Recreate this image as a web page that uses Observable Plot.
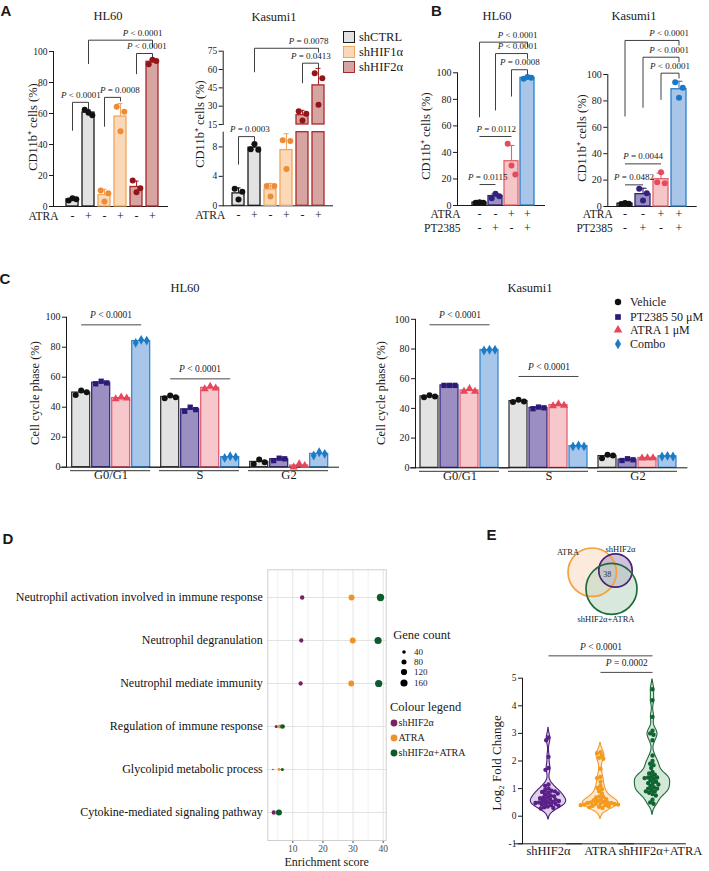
<!DOCTYPE html>
<html><head><meta charset="utf-8">
<script src="https://cdn.jsdelivr.net/npm/d3@7"></script>
<script src="https://cdn.jsdelivr.net/npm/@observablehq/plot@0.6"></script>
<style>
html,body{margin:0;padding:0;background:#fff;}
#fig{position:relative;width:709px;height:871px;overflow:hidden;background:#fff;font-family:"Liberation Serif","Times New Roman",serif;color:#1a1a1a;}
.t{position:absolute;white-space:nowrap;line-height:1;}
.letter{font-family:"Liberation Sans",Arial,sans-serif;font-weight:bold;font-size:15px;}
</style></head><body><div id="fig"></div>
<script>
// ================= DATA =================
// Panel A
const aKeys = ["shCTRL-","shCTRL+","shHIF1α-","shHIF1α+","shHIF2α-","shHIF2α+"];
const aAtraSigns = ["-","+","-","+","-","+"];
const aGroupNames = ["shCTRL","shHIF1α","shHIF2α"];
const hl60APoints = [[3.9,5.4,4.6],[62.5,60.5,58.8],[10.3,3.2,8.6],[64.4,48.5,61.2],[16.7,9.2,11.8],[91.8,94.6,93.8]];
const kasAPoints = [[2.3,0.86,1.9],[7.7,8.4,7.6],[2.7,1.26,2.7],[8.9,5.0,8.8],[25.9,18.3,23.7],[57,31.1,52.9]];
const hl60AYTicks = [0,20,40,60,80,100];
const kasALowerTicks = [0,4,8];
const kasAUpperTicks = [15,30,45,60,75];
const hl60ABrackets = [
  {from:"shCTRL-",to:"shCTRL+",y:67.2,y1:48.9,y2:62.9,label:"P < 0.0001"},
  {from:"shHIF1α-",to:"shHIF1α+",y:70.4,y1:51.5,y2:67.8,label:"P = 0.0008"},
  {from:"shHIF2α-",to:"shHIF2α+",y:98.7,y1:85.4,y2:96.1,label:"P < 0.0001"},
  {from:"shCTRL+",to:"shHIF2α+",y:107.3,y1:91.9,y2:102.6,label:"P < 0.0001"}];
const kasALowerBrackets = [{from:"shCTRL-",to:"shCTRL+",y:9.4,y1:5.6,y2:8.6,label:"P = 0.0003"}];
const kasAUpperBrackets = [
  {from:"shHIF2α-",to:"shHIF2α+",y:65.2,y1:48.8,y2:61.1,label:"P = 0.0413"},
  {from:"shCTRL+",to:"shHIF2α+",y:77.4,y1:57.8,y2:73.9,label:"P = 0.0078"}];

// Panel B
const bKeys = ["Vehicle","PT2385","ATRA","Combo"];
const bAtraSigns = ["-","-","+","+"];
const bPTSigns = ["-","+","-","+"];
const hl60BPoints = [[2.0,2.4,2.1],[5.5,8.8,7.0],[46.5,30.2,23.4],[95.5,96.8,96.2]];
const kasBPoints = [[1.8,2.6,2.0],[13.4,4.5,10.1],[18.4,26,17.7],[94.2,82.3,90]];
const bYTicks = [0,20,40,60,80,100];
const hl60BBrackets = [
  {from:"Vehicle",to:"PT2385",y:15.8,label:"P = 0.0115"},
  {from:"Vehicle",to:"ATRA",y:52,label:"P = 0.0112"},
  {from:"Vehicle",to:"Combo",y:123.1,y1:66.5,y2:119.5,label:"P < 0.0001"},
  {from:"PT2385",to:"Combo",y:114.5,y1:71.6,y2:110.5,label:"P < 0.0001"},
  {from:"ATRA",to:"Combo",y:102.3,y1:82.1,y2:98.8,label:"P = 0.0008"}];
const kasBBrackets = [
  {from:"Vehicle",to:"PT2385",y:16.4,label:"P = 0.0482"},
  {from:"Vehicle",to:"ATRA",y:32.3,label:"P = 0.0044"},
  {from:"Vehicle",to:"Combo",y:125.8,y1:68.2,y2:122,label:"P < 0.0001"},
  {from:"PT2385",to:"Combo",y:113.1,y1:74.8,y2:109.3,label:"P < 0.0001"},
  {from:"ATRA",to:"Combo",y:101,y1:80.8,y2:97,label:"P < 0.0001"}];

// Panel C
const cTreat = ["Vehicle","PT2385 50 μM","ATRA 1 μM","Combo"];
const cPhases = ["G0/G1","S","G2"];
const cYTicks = [0,20,40,60,80,100];
const hl60CVehicle = [[48.2,51.1,50],[46,47.8,46.7],[2.2,5.1,3.3]];
const hl60CPT2385  = [[55.6,57.3,56.2],[37.3,40,38.4],[4.4,6,5.6]];
const hl60CATRA    = [[45.6,46.7,46],[52.2,53.8,52.7],[0,2.2,1.1]];
const hl60CCombo   = [[82.9,84.9,84.4],[6.2,7.3,6.7],[7.8,10,8.9]];
const kasCVehicle  = [[47.5,48.8,48],[44.3,45.8,44.7],[6.5,8.8,8.3]];
const kasCPT2385   = [[55.5,55.5,55.5],[39.8,40.9,40.4],[4.9,6.1,5.4]];
const kasCATRA     = [[51.5,53.3,51.5],[41.6,43.1,42],[6.5,6.7,6.7]];
const kasCCombo    = [[79,79.5,79.5],[14.4,15,14.4],[7.6,8,7.6]];
const hl60CBrackets = [{p:"G0/G1",from:"Vehicle",to:"Combo",y:94.9,label:"P < 0.0001"},{p:"S",from:"Vehicle",to:"Combo",y:58.9,label:"P < 0.0001"}];
const kasCBrackets  = [{p:"G0/G1",from:"Vehicle",to:"Combo",y:96.3,label:"P < 0.0001"},{p:"S",from:"Vehicle",to:"Combo",y:61.5,label:"P < 0.0001"}];

// Panel D
const dTerms = ["Neutrophil activation involved in immune response","Neutrophil degranulation","Neutrophil mediate immunity","Regulation of immune response","Glycolipid metabolic process","Cytokine-mediated signaling pathway"];
const dSets = ["shHIF2α","ATRA","shHIF2α+ATRA"];
const dScoreShHIF2a = [13.1,12.8,12.6,4.5,3.4,3.7];
const dScoreATRA    = [29.5,29.9,29.4,5.7,5.4,4.8];
const dScoreCombo   = [39.1,38.3,38.5,6.6,6.5,5.4];
const dCountShHIF2a = [60,58,58,30,8,60];
const dCountATRA    = [110,110,108,55,25,50];
const dCountCombo   = [165,160,162,70,32,110];
const dSizeLegend = [40,80,120,160];
const dMajorTicks = [10,20,30,40];
const dMinorTicks = [5,15,25,35];

// Panel E
const eGroups = ["shHIF2α","ATRA","shHIF2α+ATRA"];
const eShHIF2a = [2.85,2.75,2.15,1.75,1.68,1.15,1.1,1.0,0.95,0.92,0.9,0.88,0.85,0.82,0.8,0.75,0.72,0.7,0.68,0.65,0.62,0.6,0.58,0.55,0.55,0.52,0.5,0.5,0.48,0.45,0.45,0.42,0.4,0.38,0.35,0.32,0.3,0.28];
const eATRA = [2.32,2.28,2.2,2.12,2.08,1.72,1.42,1.38,1.25,1.1,1.02,0.98,0.9,0.82,0.72,0.7,0.68,0.62,0.6,0.58,0.56,0.52,0.5,0.5,0.48,0.48,0.46,0.45,0.44,0.42,0.42,0.4,0.4,0.38,0.36,0.34,0.32,0.3];
const eCombo = [4.6,4.2,3.6,3.1,3.0,2.95,2.75,2.2,2.0,1.9,1.85,1.75,1.6,1.55,1.5,1.45,1.4,1.4,1.38,1.35,1.3,1.25,1.2,1.2,1.15,1.1,1.05,1.0,1.0,0.95,0.9,0.9,0.85,0.8,0.75,0.6,0.5,0.45];
const eYTicks = [-1,0,1,2,3,4,5];
const eBrackets = [
  {from:"shHIF2α",to:"shHIF2α+ATRA",y:5.81,label:"P < 0.0001"},
  {from:"ATRA",to:"shHIF2α+ATRA",y:5.21,label:"P = 0.0002"}];
const vennSets = ["ATRA","shHIF2α","shHIF2α+ATRA"];
const vennCx = [36.7,60,56];
const vennCy = [43.7,42,60.3];
const vennR  = [24.2,16.7,25.5];
const vennLabelX = [12.5,65,50.5];
const vennLabelY = [23.7,20.3,90.3];
const vennShared = {count: 38, x: 51.7, y: 46.3};

// ================= STYLE =================
const SERIF = "'Liberation Serif','Times New Roman',serif";
const aGroupFill = ["#e2e2e2","#fbd9b8","#d6a5a1"];
const aGroupStroke = ["#1a1a1a","#f0a65e","#a8282d"];
const aGroupDot = ["#111111","#ee8c36","#931519"];
const bFill = ["#e2e2e2","#9d90c3","#f6c5c7","#a9c6e9"];
const bStroke = ["#1a1a1a","#2f2173","#e2636c","#2b7ec7"];
const bDot = ["#111111","#32207b","#e44b5b","#1b78c5"];
const cFill = ["#e2e2e2","#9b8fc2","#f6c8cb","#a8c6ea"];
const cStroke = ["#2a2a2a","#2f1f74","#e3566a","#2d80c9"];
const cDot = ["#111111","#2c1a78","#e8465a","#1b7bc6"];
const cSym = ["circle","square","triangle","diamond"];
const cD3Sym = [d3.symbolCircle,d3.symbolSquare,d3.symbolTriangle,d3.symbolDiamond];
const dColors = ["#7b2065","#f0922b","#0c5b2c"];
const eStroke = ["#4e1c7e","#f29a27","#1b6a3a"];
const eFill = ["#ddd2ea","#fde8cf","#d5e8d8"];
const eDot = ["#5b2088","#f39a1f","#0f6431"];
const vennStroke = ["#f2a23a","#4b2276","#1d6b3a"];
const vennFill = ["#f9d9bf","#a98fc4","#b9d6bf"];

const fig = document.getElementById("fig");
const baseStyle = (fs, color = "#1a1a1a") => ({background: "transparent", overflow: "visible", fontFamily: SERIF, fontSize: fs + "px", color});

function italicP(svg) {
  svg.querySelectorAll("text").forEach(t => {
    const s = t.textContent;
    if (t.childElementCount === 0 && /^P [<=]/.test(s)) {
      t.textContent = "";
      const ts = document.createElementNS("http://www.w3.org/2000/svg", "tspan");
      ts.setAttribute("font-style", "italic");
      ts.textContent = "P";
      t.appendChild(ts);
      t.appendChild(document.createTextNode(s.slice(1)));
    }
  });
}
function place(node, left, top) {
  const d = document.createElement("div");
  d.style.cssText = `position:absolute;left:${left}px;top:${top}px;`;
  d.appendChild(node);
  fig.appendChild(d);
  italicP(node);
  return node;
}
function txt(s, x, y, o = {}) {
  const d = document.createElement("div");
  d.className = "t " + (o.cls || "");
  d.textContent = s;
  d.style.left = x + "px"; d.style.top = y + "px";
  if (o.size) d.style.fontSize = o.size + "px";
  if (o.color) d.style.color = o.color;
  const tx = o.anchor === "start" ? "0%" : o.anchor === "end" ? "-100%" : "-50%";
  d.style.transform = `translate(${tx},-50%)` + (o.rotate ? ` rotate(${o.rotate}deg)` : "");
  fig.appendChild(d);
  return d;
}
function glyph(type, r, fill, x, y) {
  const ns = "http://www.w3.org/2000/svg";
  const s = document.createElementNS(ns, "svg");
  s.setAttribute("width", 16); s.setAttribute("height", 16);
  s.style.cssText = `position:absolute;left:${x - 8}px;top:${y - 8}px;overflow:visible`;
  const p = document.createElementNS(ns, "path");
  p.setAttribute("d", d3.symbol(type, Math.PI * r * r)());
  p.setAttribute("transform", "translate(8,8)");
  p.setAttribute("fill", fill);
  s.appendChild(p);
  fig.appendChild(s);
}

// ================= BAR PANELS (A, B) =================
function barPlot(o) {
  const rows = o.keys.map((k, i) => ({k, i, mean: d3.mean(o.pts[i]), sd: d3.deviation(o.pts[i])}));
  const pts = o.keys.flatMap((k, i) => o.pts[i].map((v, j) => ({k, i, j, v})));
  const [lo, hi] = o.yDomain;
  const inR = v => v >= lo && v <= hi;
  const xb = d3.scaleBand(o.keys, [o.marginLeft + (o.insetLeft || 0), o.width - o.marginRight - (o.insetRight || 0)])
    .paddingInner(o.pI).paddingOuter(o.pO);
  const step = xb.step();
  const idx = k => o.keys.indexOf(k);
  const marks = [];
  if (o.baseline) marks.push(Plot.ruleY([lo], {stroke: "#1a1a1a", strokeWidth: 1}));
  const bars = o.upper ? rows.filter(d => d.mean > lo) : rows;
  marks.push(Plot.barY(bars, {x: "k", y1: () => lo, y2: "mean", fill: d => o.fills[d.i], stroke: d => o.strokes[d.i], strokeWidth: 1.3}));
  const eb = rows.filter(d => inR(d.mean) && inR(d.mean + d.sd));
  marks.push(Plot.ruleX(eb, {x: "k", y1: "mean", y2: d => d.mean + d.sd, stroke: d => o.strokes[d.i], strokeWidth: 1.1}));
  marks.push(Plot.tickY(eb, {x: "k", y: d => d.mean + d.sd, stroke: d => o.strokes[d.i], strokeWidth: 1.1, insetLeft: 3.5, insetRight: 3.5}));
  [0, 1, 2].forEach(j => marks.push(Plot.dot(pts.filter(p => p.j === j && inR(p.v)),
    {x: "k", y: "v", r: 3, fill: d => o.dots[d.i], dx: (j - 1) * 3.8})));
  const br = o.brackets || [];
  const bstroke = {stroke: "#2a2a2a", strokeWidth: 0.9};
  marks.push(Plot.link(br, {x1: "from", x2: "to", y1: "y", y2: "y", ...bstroke}));
  const legged = br.filter(b => b.y1 != null);
  marks.push(Plot.link(legged, {x1: "from", x2: "from", y1: "y", y2: "y1", ...bstroke}));
  marks.push(Plot.link(legged, {x1: "to", x2: "to", y1: "y", y2: "y2", ...bstroke}));
  const nudge = o.labelNudge || [];
  br.forEach((b, bi) => {
    const centered = b.y1 == null || Math.abs(idx(b.to) - idx(b.from)) === 1;
    if (centered) marks.push(Plot.text([b], {x: "from", y: "y", text: "label", dy: -7.5, dx: (idx(b.to) - idx(b.from)) * step / 2 + (nudge[bi] || 0), fontSize: 9}));
    else marks.push(Plot.text([b], {x: "to", y: "y", text: "label", dy: -7.5, dx: 10 + (nudge[bi] || 0), textAnchor: "end", fontSize: 9}));
  });
  (o.rows || []).forEach(row => {
    marks.push(Plot.text(o.keys.map((k, i) => ({k, s: row.signs[i]})), {x: "k", text: "s", frameAnchor: "bottom", dy: row.dy, fontSize: 12}));
    marks.push(Plot.text([row.label], {text: d => d, frameAnchor: "bottom-left", dx: row.dx, dy: row.dy, textAnchor: "end", fontSize: 11.5}));
  });
  return Plot.plot({
    width: o.width, height: o.height,
    marginLeft: o.marginLeft, marginRight: o.marginRight, marginTop: o.marginTop, marginBottom: o.marginBottom,
    style: baseStyle(o.tickFont || 9.5),
    color: {type: "identity"},
    x: {type: "band", domain: o.keys, paddingInner: o.pI, paddingOuter: o.pO, insetLeft: o.insetLeft || 0, insetRight: o.insetRight || 0, axis: null},
    y: {domain: o.yDomain, ticks: o.yTicks, tickSize: 4, tickPadding: 2, line: true, label: null, clamp: !!o.clamp},
    marks
  });
}

const aFills = aKeys.map((k, i) => aGroupFill[Math.floor(i / 2)]);
const aStrokes = aKeys.map((k, i) => aGroupStroke[Math.floor(i / 2)]);
const aDots = aKeys.map((k, i) => aGroupDot[Math.floor(i / 2)]);

// A HL60
place(barPlot({keys: aKeys, pts: hl60APoints, fills: aFills, strokes: aStrokes, dots: aDots,
  width: 180, height: 232, marginLeft: 53, marginRight: 12, marginTop: 51, marginBottom: 26,
  pI: 0.22, pO: 0.45, insetLeft: 3, yDomain: [0, 100], yTicks: hl60AYTicks, baseline: true, labelNudge: [0, 7, 2, 0],
  brackets: hl60ABrackets, rows: [{label: "ATRA", signs: aAtraSigns, dy: 13, dx: 5}]}), 0, 0);
// A Kasumi1 upper
place(barPlot({keys: aKeys, pts: kasAPoints, fills: aFills, strokes: aStrokes, dots: aDots,
  width: 160, height: 232, marginLeft: 42.7, marginRight: 7, marginTop: 50.7, marginBottom: 108,
  pI: 0.25, pO: 0.41, yDomain: [15, 75], yTicks: kasAUpperTicks, upper: true,
  brackets: kasAUpperBrackets}), 180, 0);
// A Kasumi1 lower
place(barPlot({keys: aKeys, pts: kasAPoints, fills: aFills, strokes: aStrokes, dots: aDots,
  width: 160, height: 232, marginLeft: 42.7, marginRight: 7, marginTop: 131.7, marginBottom: 26.7,
  pI: 0.25, pO: 0.41, yDomain: [0, 10], yTicks: kasALowerTicks, clamp: true, baseline: true, labelNudge: [3],
  brackets: kasALowerBrackets, rows: [{label: "ATRA", signs: aAtraSigns, dy: 12.8, dx: 2}]}), 180, 0);

// B HL60
place(barPlot({keys: bKeys, pts: hl60BPoints, fills: bFill, strokes: bStroke, dots: bDot,
  width: 150, height: 240, marginLeft: 57, marginRight: 5, marginTop: 72.3, marginBottom: 35,
  pI: 0.15, pO: 0.6, insetLeft: 4, yDomain: [0, 100], yTicks: bYTicks, baseline: true, tickFont: 10,
  brackets: hl60BBrackets, rows: [{label: "ATRA", signs: bAtraSigns, dy: 12, dx: 3}, {label: "PT2385", signs: bPTSigns, dy: 26.5, dx: 3}]}), 400, 0);
// B Kasumi1
place(barPlot({keys: bKeys, pts: kasBPoints, fills: bFill, strokes: bStroke, dots: bDot,
  width: 149, height: 240, marginLeft: 47.3, marginRight: 12.3, marginTop: 74, marginBottom: 34,
  pI: 0.15, pO: 0.55, yDomain: [0, 100], yTicks: bYTicks, baseline: true, tickFont: 10,
  brackets: kasBBrackets, rows: [{label: "ATRA", signs: bAtraSigns, dy: 11, dx: 5}, {label: "PT2385", signs: bPTSigns, dy: 25.5, dx: 5}]}), 560, 0);

// ================= CELL CYCLE (C) =================
function cellPlot(o) {
  const bars = [], pts = [];
  cTreat.forEach((t, ti) => cPhases.forEach((p, pi) => {
    const v = o.values[ti][pi];
    bars.push({t, p, ti, mean: d3.mean(v)});
    v.forEach((val, j) => pts.push({t, p, ti, j, v: val}));
  }));
  const marks = [
    Plot.barY(bars, {fx: "p", x: "t", y: "mean", fill: d => cFill[d.ti], stroke: d => cStroke[d.ti], strokeWidth: 1.2}),
    Plot.ruleY([0], {insetLeft: -o.edge, insetRight: -o.edge, stroke: "#1a1a1a"}),
    Plot.ruleY(cPhases, {fx: d => d, y: () => 0, dy: 3.5, insetLeft: 4, insetRight: 5, stroke: "#333"}),
    Plot.text(cPhases, {fx: d => d, text: d => d, frameAnchor: "bottom", dy: 12, fontSize: 12.5, fill: "#1a1a1a"})
  ];
  cTreat.forEach((t, ti) => [0, 1, 2].forEach(j => marks.push(
    Plot.dot(pts.filter(d => d.ti === ti && d.j === j), {fx: "p", x: "t", y: "v", symbol: cSym[ti], fill: cDot[ti], r: 3, dx: (j - 1) * 5.5}))));
  marks.push(Plot.link(o.brackets, {fx: "p", x1: "from", x2: "to", y1: "y", y2: "y", stroke: "#333", strokeWidth: 0.9}));
  marks.push(Plot.text(o.brackets, {fx: "p", y: "y", text: "label", dy: -9.5, fontSize: 9.5}));
  return Plot.plot({
    width: 345, height: 215,
    marginLeft: o.marginLeft, marginRight: o.marginRight, marginTop: o.marginTop, marginBottom: o.marginBottom,
    style: baseStyle(10),
    color: {type: "identity"},
    fx: {domain: cPhases, paddingInner: 0, paddingOuter: o.fxPO, axis: null, label: null},
    x: {domain: cTreat, paddingInner: o.xPI, paddingOuter: o.xPO, axis: null},
    y: {domain: [0, 100], ticks: cYTicks, tickSize: 4, tickPadding: 2, line: true, label: null},
    marks
  });
}
place(cellPlot({values: [hl60CVehicle, hl60CPT2385, hl60CATRA, hl60CCombo], brackets: hl60CBrackets,
  marginLeft: 58.3, marginRight: 5, marginTop: 46.7, marginBottom: 18.3, fxPO: 0.0667, xPI: 0.095, xPO: 0.188, edge: 6}), 0, 270);
place(cellPlot({values: [kasCVehicle, kasCPT2385, kasCATRA, kasCCombo], brackets: kasCBrackets,
  marginLeft: 54, marginRight: 12, marginTop: 48.8, marginBottom: 17.7, fxPO: 0.06, xPI: 0.082, xPO: 0.2, edge: 5.4}), 355, 270);

// ================= D: enrichment dot plot =================
const dScores = [dScoreShHIF2a, dScoreATRA, dScoreCombo];
const dCounts = [dCountShHIF2a, dCountATRA, dCountCombo];
const rDomain = [0, 180], rRange = [0, 3.8];
place(Plot.plot({
  width: 460, height: 326, marginLeft: 267.3, marginRight: 74.3, marginTop: 24.3, marginBottom: 31,
  style: baseStyle(9.5, "#4d4d4d"),
  x: {domain: [1.7, 41], ticks: dMajorTicks, tickSize: 3, tickPadding: 2, label: null},
  y: {type: "point", domain: dTerms, padding: 0.585, axis: null},
  r: {type: "sqrt", domain: rDomain, range: rRange},
  marks: [
    Plot.ruleX(dMinorTicks, {x: d => d, stroke: "#f1f1f1"}),
    Plot.ruleX(dMajorTicks, {x: d => d, stroke: "#e3e3e3"}),
    Plot.ruleY(dTerms, {y: d => d, stroke: "#e3e3e3"}),
    Plot.frame({stroke: "#cfcfcf"}),
    ...dSets.map((s, si) => Plot.dot(dTerms.map((term, i) => ({term, score: dScores[si][i], count: dCounts[si][i]})),
      {x: "score", y: "term", r: "count", fill: dColors[si]})),
    Plot.text(dTerms, {y: d => d, text: d => d, frameAnchor: "left", dx: -5, textAnchor: "end", fontSize: 12, fill: "#111"})
  ]
}), 0, 545);

// D legends
const rS = d3.scaleSqrt(rDomain, rRange);
txt("Gene count", 393.3, 635, {anchor: "start", size: 12.5});
dSizeLegend.forEach((c, i) => {
  const y = [651.7, 661.7, 672.3, 682.7][i];
  glyph(d3.symbolCircle, rS(c), "#000", 404, y);
  txt(String(c), 414, y, {anchor: "start", size: 9});
});
txt("Colour legend", 390, 706.7, {anchor: "start", size: 12.5});
dSets.forEach((s, i) => {
  const y = [722.7, 737.7, 753.3][i];
  glyph(d3.symbolCircle, 3.4, dColors[i], 393.8, y);
  txt(s, 398.5, y, {anchor: "start", size: 10});
});

// ================= E: Venn =================
const vennData = vennSets.map((s, i) => ({s, x: vennCx[i], y: vennCy[i], r: vennR[i], i}));
place(Plot.plot({
  width: 110, height: 100, margin: 0,
  style: baseStyle(8.5),
  x: {domain: [0, 110], range: [0, 110], axis: null},
  y: {domain: [0, 100], range: [0, 100], axis: null},
  r: {type: "linear", domain: [0, 30], range: [0, 30]},
  marks: [
    ...vennData.map(d => Plot.dot([d], {x: "x", y: "y", r: "r", fill: vennFill[d.i], fillOpacity: 0.55, stroke: "none"})),
    ...vennData.map(d => Plot.dot([d], {x: "x", y: "y", r: "r", stroke: vennStroke[d.i], strokeWidth: 1.7, fill: "none"})),
    Plot.text(vennSets.map((s, i) => ({s, x: vennLabelX[i], y: vennLabelY[i]})), {x: "x", y: "y", text: "s", fontSize: 8.5, fill: "#222"}),
    Plot.text([vennShared], {x: "x", y: "y", text: d => String(d.count), fontSize: 8, fill: "#333"})
  ]
}), 555, 528);

// ================= E: violins =================
function kde(vals, bw, stepY) {
  const lo = d3.min(vals) - 0.4, hi = d3.max(vals) + 0.35;
  const ys = d3.range(lo, hi + stepY / 2, stepY);
  const dens = ys.map(y => ({y, d: d3.mean(vals, v => Math.exp(-0.5 * ((y - v) / bw) ** 2))}));
  const m = d3.max(dens, d => d.d);
  return dens.map(d => ({y: d.y, w: d.d / m}));
}
const eVals = [eShHIF2a, eATRA, eCombo];
const eMarks = [Plot.ruleY([-1], {insetLeft: -7.9, insetRight: -7.9, stroke: "#1a1a1a"})];
eGroups.forEach((g, gi) => {
  const dens = kde(eVals[gi], 0.17, 0.02);
  eMarks.push(Plot.areaX(dens, {fx: () => g, y: "y", x1: d => -d.w * 0.68, x2: d => d.w * 0.68, fill: eFill[gi], stroke: eStroke[gi], strokeWidth: 1.1, curve: "basis"}));
  eMarks.push(Plot.dot(eVals[gi], Plot.dodgeX({anchor: "middle", padding: 0.6}, {fx: () => g, y: d => d, r: 1.5, fill: eDot[gi], stroke: eDot[gi], strokeWidth: 1.4})));
});
eMarks.push(Plot.text(eGroups.slice(0, 2), {fx: d => d, text: d => d, frameAnchor: "bottom", dy: 11, fontSize: 12.5, fill: "#1a1a1a"}));
eMarks.push(Plot.text(eGroups.slice(2), {fx: d => d, text: d => d, frameAnchor: "bottom", dy: 11, dx: 8, fontSize: 12.5, fill: "#1a1a1a"}));
const eDims = {width: 249, height: 241, marginLeft: 53.3, marginRight: 22.3, marginTop: 47.7, marginBottom: 27.7};
place(Plot.plot({
  ...eDims,
  style: baseStyle(9.5),
  fx: {domain: eGroups, paddingInner: 0, paddingOuter: 0.15, axis: null, label: null},
  x: {domain: [-1, 1], axis: null},
  y: {domain: [-1, 5], ticks: eYTicks, tickFormat: d => String(d), tickSize: 4, tickPadding: 2, line: true, label: null},
  marks: eMarks
}), 460, 630);
// E brackets overlay
const eBand = d3.scaleBand(eGroups, [eDims.marginLeft, eDims.width - eDims.marginRight]).paddingInner(0).paddingOuter(0.15);
const eIdx = k => eGroups.indexOf(k);
place(Plot.plot({
  ...eDims,
  style: baseStyle(9.5),
  x: {type: "band", domain: eGroups, paddingInner: 0, paddingOuter: 0.15, axis: null},
  y: {domain: [-1, 5], axis: null},
  marks: [
    Plot.link(eBrackets, {x1: "from", x2: "to", y1: "y", y2: "y", stroke: "#333", strokeWidth: 0.9}),
    ...eBrackets.map(b => Plot.text([b], {x: "from", y: "y", text: "label", dy: -9, dx: (eIdx(b.to) - eIdx(b.from)) * eBand.step() / 2, fontSize: 9.5}))
  ]
}), 460, 630);

// ================= HTML TEXT =================
txt("A", 6, 10, {cls: "letter"});
txt("B", 436.5, 10, {cls: "letter"});
txt("C", 5, 278, {cls: "letter"});
txt("D", 8, 538, {cls: "letter"});
txt("E", 491.5, 534, {cls: "letter"});
txt("HL60", 108, 16, {size: 12.5});
txt("Kasumi1", 274, 17, {size: 12.5});
txt("HL60", 497, 16, {size: 12.5});
txt("Kasumi1", 634, 16, {size: 12.5});
txt("HL60", 185, 288, {size: 12.5});
txt("Kasumi1", 530, 288, {size: 12.5});
txt("CD11b⁺ cells (%)", 33, 127, {size: 12.5, rotate: -90});
txt("CD11b⁺ cells (%)", 200, 123.5, {size: 12.5, rotate: -90});
txt("CD11b⁺ cells (%)", 426, 136, {size: 12.5, rotate: -90});
txt("CD11b⁺ cells (%)", 582, 138, {size: 12.5, rotate: -90});
txt("Cell cycle phase (%)", 35, 393, {size: 12.5, rotate: -90});
txt("Cell cycle phase (%)", 381, 393, {size: 12.5, rotate: -90});
txt("Log₂ Fold Change", 496, 763, {size: 13, rotate: -90});
txt("Enrichment score", 326.7, 861.7, {size: 12});
aGroupNames.forEach((n, i) => {
  const y = 37 + i * 15;
  const sq = document.createElement("div");
  sq.style.cssText = `position:absolute;left:343px;top:${y - 6}px;width:10px;height:10px;background:${aGroupFill[i]};border:1.3px solid ${aGroupStroke[i]};`;
  fig.appendChild(sq);
  txt(n, 359, y, {anchor: "start", size: 12.5});
});
cTreat.forEach((t, i) => {
  const y = [301.7, 316.7, 330, 344.3][i];
  glyph(cD3Sym[i], 3.2, cDot[i], 618, y);
  txt(t, 630, y, {anchor: "start", size: 12});
});
</script></body></html>
